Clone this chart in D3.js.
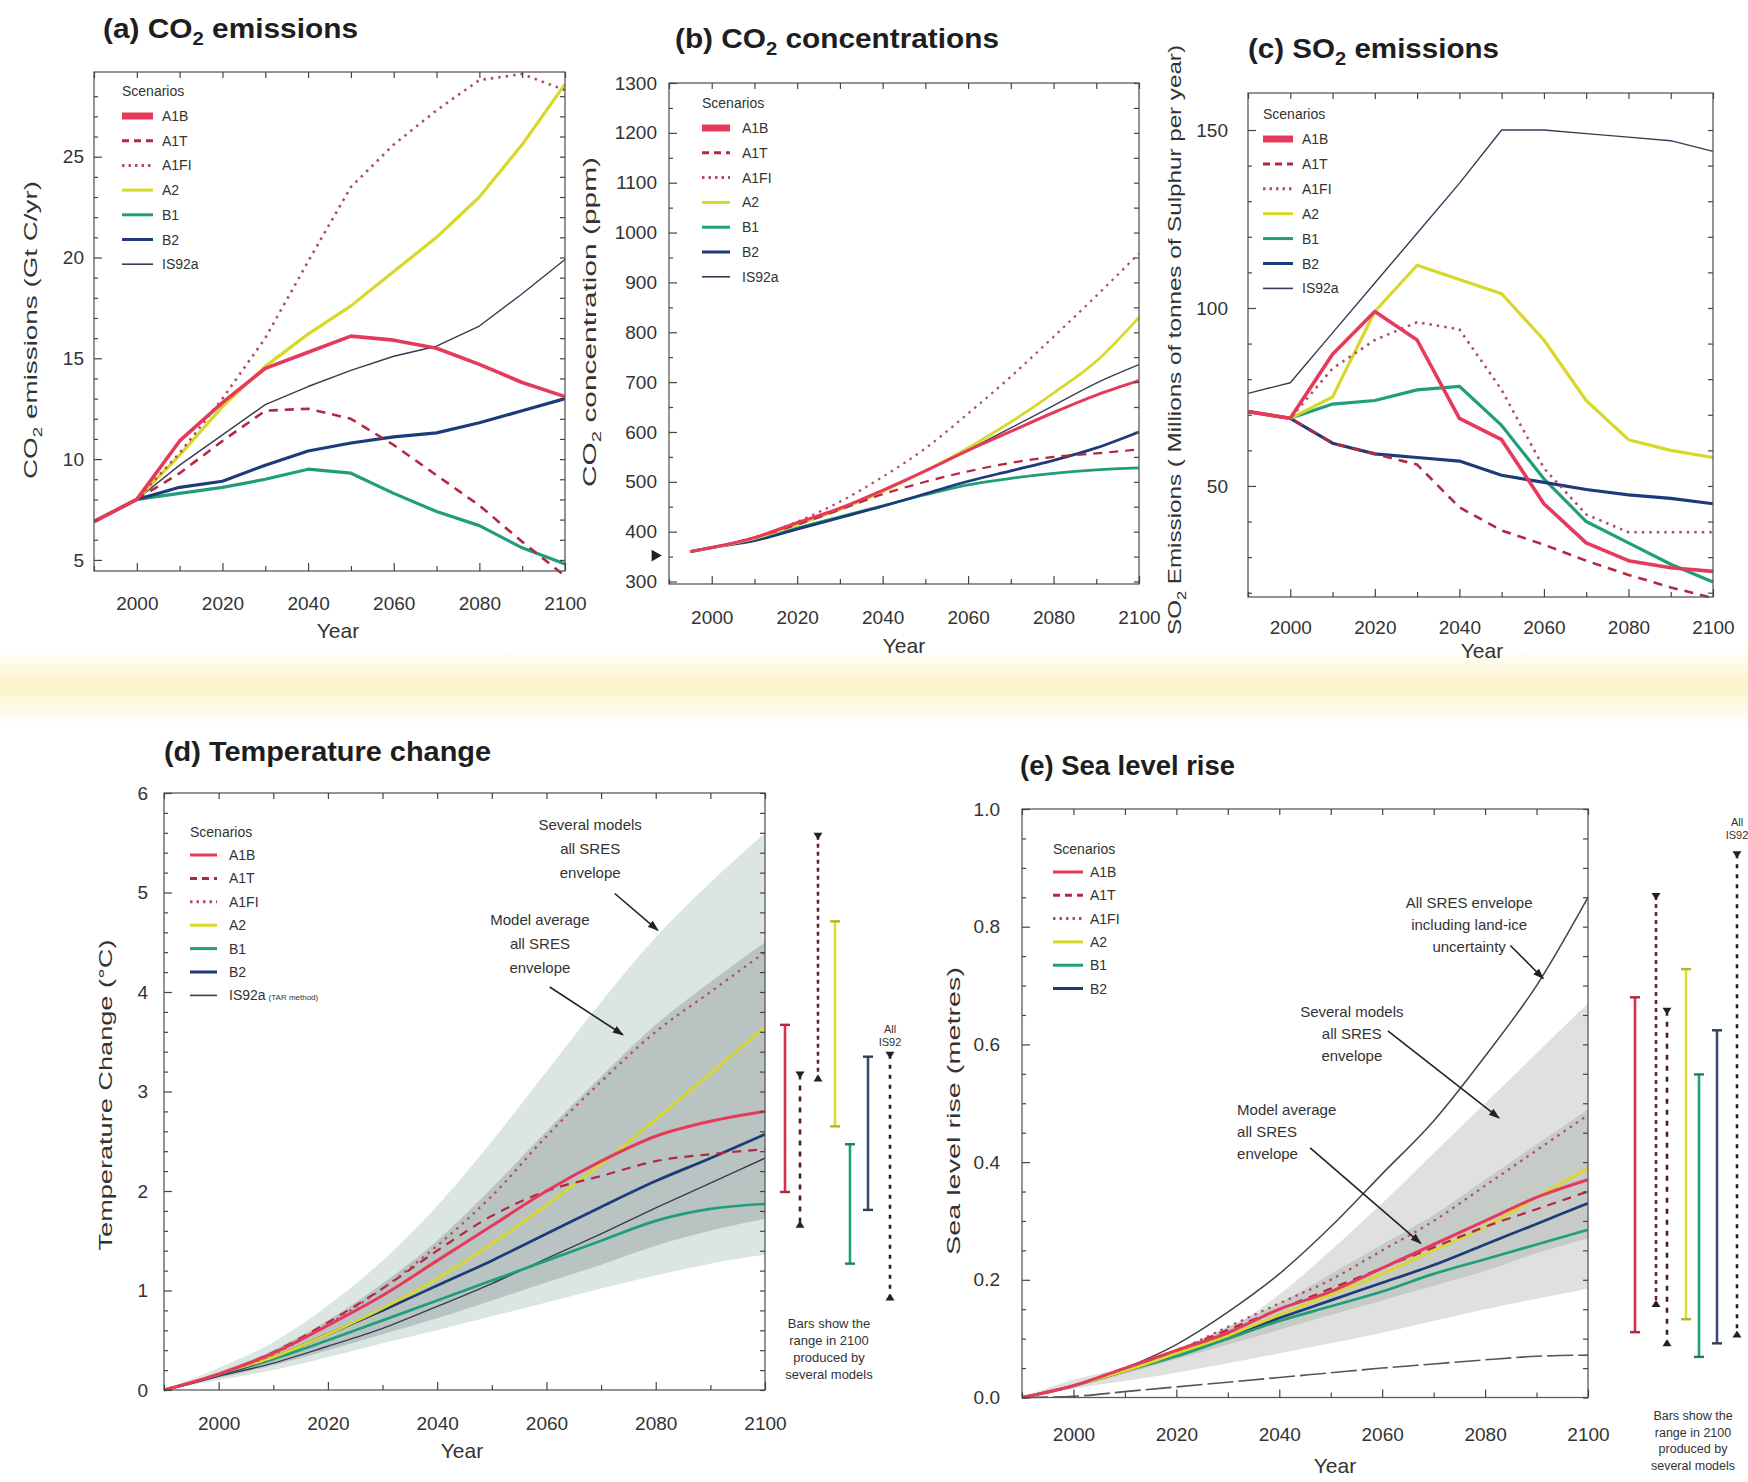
<!DOCTYPE html>
<html><head><meta charset="utf-8">
<script src="https://cdn.jsdelivr.net/npm/d3@7"></script>
<style>
body{margin:0;background:#fff}
svg{display:block}
text{font-family:"Liberation Sans",Arial,Helvetica,sans-serif}
</style></head>
<body><svg id="chart" width="1748" height="1482"></svg>
<script>
// ---------------- DATA ----------------
const years = [1990,2000,2010,2020,2030,2040,2050,2060,2070,2080,2090,2100];
const concYears = [1995,2000,2010,2020,2030,2040,2050,2060,2070,2080,2090,2100];
const xTickYears = [2000,2020,2040,2060,2080,2100];
const scenarioNames = ["A1B","A1T","A1FI","A2","B1","B2","IS92a"];

// (a) CO2 emissions, Gt C/yr
const co2EmisA1B   = [6.9,8.0,10.9,12.8,14.5,15.3,16.1,15.9,15.5,14.7,13.8,13.1];
const co2EmisA1T   = [6.9,8.0,9.3,10.9,12.4,12.5,12.0,10.7,9.2,7.7,5.9,4.2];
const co2EmisA1FI  = [6.9,8.0,10.3,13.0,16.0,19.8,23.5,25.6,27.3,28.8,29.1,28.3];
const co2EmisA2    = [6.9,8.0,10.2,12.6,14.6,16.2,17.6,19.3,21.0,23.0,25.6,28.6];
const co2EmisB1    = [6.9,8.0,8.3,8.6,9.0,9.5,9.3,8.3,7.4,6.7,5.6,4.8];
const co2EmisB2    = [6.9,8.0,8.6,8.9,9.7,10.4,10.8,11.1,11.3,11.8,12.4,13.0];
const co2EmisIS92a = [6.9,8.0,9.7,11.2,12.7,13.6,14.4,15.1,15.6,16.6,18.2,19.9];

// (b) CO2 concentrations, ppm
const co2ConcA1B   = [360,368,388,418,447,483,522,563,601,639,674,703];
const co2ConcA1T   = [360,368,388,414,444,475,500,521,538,550,557,565];
const co2ConcA1FI  = [360,368,389,420,460,510,567,637,711,791,873,958];
const co2ConcA2    = [360,368,386,414,444,480,522,568,620,678,742,830];
const co2ConcB1    = [360,368,385,407,430,452,474,494,507,517,524,528];
const co2ConcB2    = [360,368,382,405,428,451,476,501,522,543,568,600];
const co2ConcIS92a = [360,368,388,415,446,482,522,564,608,653,698,735];
const co2Obs1990 = 352;

// (c) SO2 emissions, Mt S/yr
const so2A1B   = [70.9,69,87,99,91,69,63,45,34,29,27,26];
const so2A1T   = [70.9,69,62,59,56,44,37.5,33.5,29,25,21.5,18.5];
const so2A1FI  = [70.9,69,83,91,96,94,77,55,42,37,37,37];
const so2A2    = [70.9,69,75,99,112,108,104,91,74,63,60,58];
const so2B1    = [70.9,69,73,74,77,78,67,52,40,34,28,23];
const so2B2    = [70.9,69,62,59,58,57,53,51,49,47.5,46.5,45];
const so2IS92a = [76,79,93,107,121,135,150,150,149,148,147,144];

// (d) Temperature change, deg C
const tempA1B   = [0,0.16,0.37,0.65,0.95,1.3,1.65,2.0,2.3,2.55,2.7,2.8];
const tempA1T   = [0,0.16,0.38,0.68,1.02,1.4,1.75,2.0,2.15,2.3,2.37,2.42];
const tempA1FI  = [0,0.16,0.36,0.66,1.02,1.45,1.95,2.55,3.1,3.6,4.0,4.4];
const tempA2    = [0,0.16,0.33,0.56,0.82,1.12,1.47,1.86,2.27,2.72,3.18,3.65];
const tempB1    = [0,0.15,0.31,0.5,0.7,0.9,1.1,1.3,1.5,1.7,1.82,1.87];
const tempB2    = [0,0.15,0.33,0.56,0.8,1.05,1.3,1.57,1.84,2.1,2.33,2.57];
const tempIS92a = [0,0.14,0.27,0.44,0.62,0.84,1.07,1.32,1.57,1.83,2.08,2.33];
const tempOuterLow  = [0,0.1,0.2,0.33,0.47,0.6,0.74,0.88,1.02,1.15,1.27,1.36];
const tempOuterHigh = [0,0.22,0.48,0.85,1.3,1.85,2.5,3.2,3.9,4.55,5.1,5.6];
const tempInnerLow  = [0,0.12,0.25,0.4,0.56,0.72,0.9,1.08,1.26,1.45,1.6,1.72];
const tempInnerHigh = [0,0.18,0.4,0.7,1.07,1.5,2.03,2.6,3.15,3.67,4.1,4.5];
const tempBarNames = ["A1B","A1T","A1FI","A2","B1","B2","IS92a"];
const tempBarLow   = [1.99,1.66,3.13,2.65,1.27,1.81,0.93];
const tempBarHigh  = [3.67,3.17,5.57,4.71,2.47,3.35,3.37];

// (e) Sea level rise, metres
const seaA1B   = [0,0.02,0.05,0.08,0.11,0.15,0.18,0.22,0.26,0.3,0.34,0.37];
const seaA1T   = [0,0.02,0.05,0.08,0.115,0.15,0.185,0.22,0.255,0.29,0.32,0.35];
const seaA1FI  = [0,0.02,0.05,0.08,0.12,0.16,0.2,0.25,0.3,0.36,0.42,0.48];
const seaA2    = [0,0.02,0.045,0.075,0.105,0.14,0.175,0.21,0.25,0.29,0.34,0.39];
const seaB1    = [0,0.02,0.045,0.07,0.1,0.13,0.155,0.18,0.21,0.235,0.26,0.285];
const seaB2    = [0,0.02,0.045,0.075,0.105,0.135,0.165,0.195,0.225,0.26,0.295,0.33];
const seaOuterLow  = [0,0.015,0.028,0.042,0.058,0.075,0.092,0.11,0.13,0.15,0.168,0.185];
const seaOuterHigh = [0,0.03,0.05,0.075,0.115,0.175,0.25,0.33,0.415,0.5,0.585,0.67];
const seaInnerLow  = [0,0.018,0.04,0.065,0.09,0.115,0.14,0.165,0.19,0.215,0.245,0.27];
const seaInnerHigh = [0,0.022,0.05,0.08,0.12,0.16,0.21,0.26,0.31,0.37,0.43,0.49];
const seaLandIceHigh = [0,0.02,0.05,0.09,0.145,0.21,0.29,0.38,0.47,0.58,0.7,0.85];
const seaLandIceLow  = [0,0.002,0.01,0.018,0.026,0.034,0.042,0.05,0.057,0.064,0.07,0.072];
const seaBarNames = ["A1B","A1FI","A1T","A2","B1","B2","IS92a"];
const seaBarLow   = [0.111,0.159,0.092,0.133,0.069,0.092,0.107];
const seaBarHigh  = [0.68,0.852,0.657,0.728,0.549,0.624,0.923];

// ---------------- STYLES ----------------
const style = {
  A1B:  {color:"#e63a5c", width:3.6, dash:null},
  A1T:  {color:"#b3283e", width:2.6, dash:"9,7"},
  A1FI: {color:"#b24c68", width:2.6, dash:"2.5,5"},
  A2:   {color:"#d8d828", width:3.2, dash:null},
  B1:   {color:"#1f9e7a", width:3.2, dash:null},
  B2:   {color:"#1d3b78", width:3.2, dash:null},
  IS92a:{color:"#3a3a55", width:1.4, dash:null}
};
const barStyle = {
  A1B:  {color:"#d6304c", dash:null, top:"bar", bot:"bar"},
  A1T:  {color:"#4a1e26", dash:"5,6", top:"down", bot:"up"},
  A1FI: {color:"#6a1f34", dash:"4,4", top:"down", bot:"up"},
  A2:   {color:"#dede30", dash:null, top:"bar", bot:"bar"},
  B1:   {color:"#22a070", dash:null, top:"bar", bot:"bar"},
  B2:   {color:"#3c4a6e", dash:null, top:"bar", bot:"bar"},
  IS92a:{color:"#222", dash:"4,6", top:"down", bot:"up"}
};
const drawOrder = ["IS92a","B1","B2","A2","A1T","A1FI","A1B"];
const FONT = '"Liberation Sans",Arial,Helvetica,sans-serif';
const svg = d3.select("#chart");

const defs = svg.append("defs");
defs.append("marker").attr("id","arrow").attr("viewBox","0 0 10 10").attr("refX",9).attr("refY",5)
  .attr("markerWidth",7).attr("markerHeight",7).attr("orient","auto")
  .append("path").attr("d","M0,1.5 L10,5 L0,8.5 Z").attr("fill","#222");
const grad = defs.append("linearGradient").attr("id","stripe").attr("x1",0).attr("y1",0).attr("x2",0).attr("y2",1);
grad.append("stop").attr("offset","0%").attr("stop-color","#fbf0bd").attr("stop-opacity",0);
grad.append("stop").attr("offset","50%").attr("stop-color","#fbf0bd").attr("stop-opacity",0.85);
grad.append("stop").attr("offset","100%").attr("stop-color","#fbf0bd").attr("stop-opacity",0);
svg.append("rect").attr("x",0).attr("y",648).attr("width",1748).attr("height",76).attr("fill","url(#stripe)");

// ---------------- HELPERS ----------------
function richText(g, x, y, parts, size, opts={}) {
  const t = g.append("text").attr("x",x).attr("y",y).attr("font-size",size)
    .attr("fill",opts.fill||"#2a2a2a").attr("font-weight",opts.weight||"normal")
    .attr("text-anchor",opts.anchor||"start");
  if (opts.rotate) t.attr("transform",`rotate(-90,${x},${y})`);
  let pending = 0;
  parts.forEach(p => {
    if (typeof p === "string") {
      const ts = t.append("tspan").text(p);
      if (pending) { ts.attr("dy",pending); pending = 0; }
    } else {
      t.append("tspan").text(p.sub).attr("font-size",size*0.68).attr("dy",size*0.25);
      pending = -size*0.25;
    }
  });
  if (opts.length) t.attr("textLength",opts.length).attr("lengthAdjust","spacingAndGlyphs");
  return t;
}

function drawPanel(p) {
  const g = svg.append("g");
  const x = d3.scaleLinear().domain([1990,2100]).range([p.left,p.right]);
  const y = d3.scaleLinear().domain(p.yDomain).range([p.bottom,p.top]);
  const clipId = "clip-"+p.id;
  defs.append("clipPath").attr("id",clipId).append("rect")
    .attr("x",p.left).attr("y",p.top-6).attr("width",p.right-p.left+2).attr("height",p.bottom-p.top+14);
  const plot = g.append("g").attr("clip-path",`url(#${clipId})`);

  (p.bands||[]).forEach(b => {
    const area = d3.area().x((d,i)=>x(years[i])).y0((d,i)=>y(b.lo[i])).y1((d,i)=>y(b.hi[i])).curve(d3.curveMonotoneX);
    plot.append("path").attr("d",area(years)).attr("fill",b.fill).attr("stroke","none");
  });
  (p.thin||[]).forEach(t => {
    const ln = d3.line().x((d,i)=>x(years[i])).y(d=>y(d)).curve(d3.curveMonotoneX);
    plot.append("path").attr("d",ln(t.values)).attr("fill","none").attr("stroke",t.color)
      .attr("stroke-width",t.width).attr("stroke-dasharray",t.dash||null);
  });
  const curve = p.smooth ? d3.curveMonotoneX : d3.curveLinear;
  drawOrder.forEach(name => {
    const s = p.series[name];
    if (!s) return;
    const st = style[name];
    const xs = p.seriesYears || years;
    const ln = d3.line().x((d,i)=>x(xs[i])).y(d=>y(d)).curve(curve);
    plot.append("path").attr("d",ln(s)).attr("fill","none").attr("stroke",st.color)
      .attr("stroke-width",name==="IS92a"?st.width:(p.lineScale||1)*st.width)
      .attr("stroke-dasharray",st.dash).attr("stroke-linejoin","round");
  });

  g.append("rect").attr("x",p.left).attr("y",p.top).attr("width",p.right-p.left).attr("height",p.bottom-p.top)
    .attr("fill","none").attr("stroke","#5a5a5a").attr("stroke-width",1.3);

  const styleAxis = sel => {
    sel.select(".domain").remove();
    sel.selectAll(".tick line").attr("stroke","#444").attr("stroke-width",1.2);
    sel.selectAll(".tick text").attr("font-size",p.tickFont||19).attr("fill","#333").attr("font-family",FONT);
  };
  g.append("g").attr("transform",`translate(0,${p.bottom})`)
    .call(d3.axisBottom(x).tickValues(xTickYears).tickFormat(d3.format("d")).tickSizeInner(-8).tickSizeOuter(0).tickPadding(p.xPad))
    .call(styleAxis);
  const minorYears = d3.range(1990,2101,10).filter(v => v%20!==0);
  g.append("g").attr("transform",`translate(0,${p.bottom})`)
    .call(d3.axisBottom(x).tickValues(minorYears).tickFormat("").tickSizeInner(-5).tickSizeOuter(0)).call(styleAxis);
  g.append("g").attr("transform",`translate(0,${p.top})`)
    .call(d3.axisTop(x).tickValues(d3.range(1990,2101,10)).tickFormat("").tickSizeInner(-6).tickSizeOuter(0)).call(styleAxis);
  g.append("g").attr("transform",`translate(${p.left},0)`)
    .call(d3.axisLeft(y).tickValues(p.yTicks).tickFormat(p.yFormat||d3.format("d")).tickSizeInner(-8).tickSizeOuter(0).tickPadding(p.yPad))
    .call(styleAxis);
  g.append("g").attr("transform",`translate(${p.left},0)`)
    .call(d3.axisLeft(y).tickValues(p.yMinor).tickFormat("").tickSizeInner(-4).tickSizeOuter(0)).call(styleAxis);
  g.append("g").attr("transform",`translate(${p.right},0)`)
    .call(d3.axisRight(y).tickValues(p.yTicks.concat(p.yMinor)).tickFormat("").tickSizeInner(-5).tickSizeOuter(0)).call(styleAxis);

  richText(g, p.title.x, p.title.y, p.title.parts, 28, {weight:"bold", fill:"#1e1e1e", length:p.title.len});
  richText(g, p.xTitle.x, p.xTitle.y, ["Year"], 21, {anchor:"middle", fill:"#333"});
  richText(g, p.yTitle.x, p.yTitle.y, p.yTitle.parts, 18, {anchor:"middle", rotate:true, fill:"#333", length:p.yTitle.len});

  const L = p.legend;
  const lg = g.append("g");
  lg.append("text").attr("x",L.x).attr("y",L.y0-L.dy+5).attr("font-size",14).attr("fill","#333").text("Scenarios");
  L.names.forEach((name,i) => {
    const st = style[name];
    const yy = L.y0 + i*L.dy;
    lg.append("line").attr("x1",L.x).attr("x2",L.x+L.len).attr("y1",yy).attr("y2",yy)
      .attr("stroke",st.color).attr("stroke-width",name==="A1B"&&L.fat?7:(name==="IS92a"?1.6:3))
      .attr("stroke-dasharray",name==="A1T"?"7,5":(name==="A1FI"?"2.5,4":null));
    const t = lg.append("text").attr("x",L.x+L.len+L.gap).attr("y",yy+5).attr("font-size",14).attr("fill","#333").text(name);
    if (name==="IS92a" && L.tar) t.append("tspan").attr("font-size",8).attr("dx",3).text("(TAR method)");
  });
  return {g,x,y};
}

function drawAnnotation(g, x, y, a) {
  a.lines.forEach((s,i) => {
    g.append("text").attr("x",x(a.tx)).attr("y",y(a.ty)+i*a.lh).attr("text-anchor",a.anchor||"middle")
      .attr("font-size",15).attr("fill","#333").text(s);
  });
  g.append("line").attr("x1",x(a.from[0])).attr("y1",y(a.from[1])).attr("x2",x(a.to[0])).attr("y2",y(a.to[1]))
    .attr("stroke","#222").attr("stroke-width",1.6).attr("marker-end","url(#arrow)");
}

function drawBars(g, right, y, names, lows, highs, offsets) {
  names.forEach((name,i) => {
    const bs = barStyle[name];
    const bx = right + offsets[i];
    const y1 = y(highs[i]), y2 = y(lows[i]);
    g.append("line").attr("x1",bx).attr("x2",bx).attr("y1",y1).attr("y2",y2)
      .attr("stroke",bs.color).attr("stroke-width",2.6).attr("stroke-dasharray",bs.dash);
    const cap = (yy,type) => {
      if (type==="bar") g.append("line").attr("x1",bx-5).attr("x2",bx+5).attr("y1",yy).attr("y2",yy)
        .attr("stroke",d3.color(bs.color).darker(0.6)).attr("stroke-width",2.4);
      else if (type==="down") g.append("path").attr("d",`M${bx-4.5},${yy-3}L${bx+4.5},${yy-3}L${bx},${yy+4}Z`).attr("fill","#222");
      else if (type==="up") g.append("path").attr("d",`M${bx-4.5},${yy+3}L${bx+4.5},${yy+3}L${bx},${yy-4}Z`).attr("fill","#222");
    };
    cap(y1,bs.top); cap(y2,bs.bot);
  });
}

// ---------------- PANELS ----------------
drawPanel({
  id:"a", left:94, right:565, top:72, bottom:571, yDomain:[4.45,29.2],
  yTicks:[5,10,15,20,25], yMinor:d3.range(5,29,1).filter(v=>v%5!==0), xPad:26, yPad:10,
  series:{A1B:co2EmisA1B,A1T:co2EmisA1T,A1FI:co2EmisA1FI,A2:co2EmisA2,B1:co2EmisB1,B2:co2EmisB2,IS92a:co2EmisIS92a},
  title:{x:103,y:38,len:255,parts:["(a) CO",{sub:"2"}," emissions"]},
  xTitle:{x:338,y:638}, yTitle:{x:37,y:330,len:298,parts:["CO",{sub:"2"}," emissions (Gt C/yr)"]},
  legend:{x:122,y0:116,dy:24.7,len:31,gap:9,names:scenarioNames,fat:true}
});

const pb = drawPanel({
  id:"b", left:669, right:1139, top:83, bottom:584, yDomain:[295,1300],
  yTicks:d3.range(300,1301,100), yMinor:d3.range(350,1300,100), xPad:27, yPad:12, smooth:true, lineScale:0.85,
  seriesYears:concYears,
  series:{A1B:co2ConcA1B,A1T:co2ConcA1T,A1FI:co2ConcA1FI,A2:co2ConcA2,B1:co2ConcB1,B2:co2ConcB2,IS92a:co2ConcIS92a},
  title:{x:675,y:48,len:324,parts:["(b) CO",{sub:"2"}," concentrations"]},
  xTitle:{x:904,y:653}, yTitle:{x:596,y:322,len:330,parts:["CO",{sub:"2"}," concentration (ppm)"]},
  legend:{x:702,y0:128,dy:24.8,len:28,gap:12,names:scenarioNames,fat:true}
});
pb.g.append("path").attr("d",d3.symbol().type(d3.symbolTriangle).size(60)())
  .attr("transform",`translate(${pb.x(1990)-14},${pb.y(co2Obs1990)}) rotate(90)`).attr("fill","#222");

drawPanel({
  id:"c", left:1248, right:1713, top:93, bottom:597, yDomain:[18.8,160.4],
  yTicks:[50,100,150], yMinor:d3.range(20,160,10).filter(v=>v%50!==0), xPad:24, yPad:20,
  series:{A1B:so2A1B,A1T:so2A1T,A1FI:so2A1FI,A2:so2A2,B1:so2B1,B2:so2B2,IS92a:so2IS92a},
  title:{x:1248,y:58,len:251,parts:["(c) SO",{sub:"2"}," emissions"]},
  xTitle:{x:1482,y:658}, yTitle:{x:1181,y:340,len:590,parts:["SO",{sub:"2"}," Emissions ( Millions of tonnes of Sulphur per year)"]},
  legend:{x:1263,y0:139,dy:24.9,len:30,gap:9,names:scenarioNames,fat:true}
});

const pd = drawPanel({
  id:"d", left:164, right:765, top:793, bottom:1390, yDomain:[0,6],
  yTicks:[0,1,2,3,4,5,6], yMinor:d3.range(0.2,6,0.2).filter(v=>Math.abs(v-Math.round(v))>0.05), xPad:27, yPad:16, smooth:true, lineScale:0.85,
  bands:[{lo:tempOuterLow,hi:tempOuterHigh,fill:"#dbe6e2"},{lo:tempInnerLow,hi:tempInnerHigh,fill:"#b9c4c2"}],
  series:{A1B:tempA1B,A1T:tempA1T,A1FI:tempA1FI,A2:tempA2,B1:tempB1,B2:tempB2,IS92a:tempIS92a},
  title:{x:164,y:761,len:327,parts:["(d) Temperature change"]},
  xTitle:{x:462,y:1458}, yTitle:{x:112,y:1095,len:311,parts:["Temperature Change (\u00b0C)"]},
  legend:{x:190,y0:855,dy:23.4,len:27,gap:12,names:scenarioNames,tar:true}
});
drawAnnotation(pd.g, pd.x, pd.y, {lines:["Several models","all SRES","envelope"], tx:2068, ty:5.63, lh:24, from:[2072.5,4.99], to:[2080.4,4.62]});
drawAnnotation(pd.g, pd.x, pd.y, {lines:["Model average","all SRES","envelope"], tx:2058.8, ty:4.67, lh:24, from:[2060.6,4.05], to:[2074,3.57]});
drawBars(pd.g, 765, pd.y, tempBarNames, tempBarLow, tempBarHigh, [20,35,53,70,85,103,125]);
pd.g.append("text").attr("x",890).attr("y",pd.y(3.37)-22).attr("text-anchor","middle").attr("font-size",11).attr("fill","#333").text("All");
pd.g.append("text").attr("x",890).attr("y",pd.y(3.37)-9).attr("text-anchor","middle").attr("font-size",11).attr("fill","#333").text("IS92");
["Bars show the","range in 2100","produced by","several models"].forEach((s,i)=>
  pd.g.append("text").attr("x",829).attr("y",1328+i*17).attr("text-anchor","middle").attr("font-size",13).attr("fill","#333").text(s));

const pe = drawPanel({
  id:"e", left:1022, right:1588, top:809, bottom:1397.5, yDomain:[0,1],
  yTicks:[0,0.2,0.4,0.6,0.8,1.0], yFormat:d3.format(".1f"), yMinor:d3.range(0.05,1,0.05).filter(v=>Math.abs(v*5-Math.round(v*5))>0.01), xPad:30, yPad:22, smooth:true, lineScale:0.85,
  bands:[{lo:seaOuterLow,hi:seaOuterHigh,fill:"#e0e1df"},{lo:seaInnerLow,hi:seaInnerHigh,fill:"#c6cbc8"}],
  thin:[{values:seaLandIceHigh,color:"#444",width:1.5},{values:seaLandIceLow,color:"#555",width:1.6,dash:"26,5"}],
  series:{A1B:seaA1B,A1T:seaA1T,A1FI:seaA1FI,A2:seaA2,B1:seaB1,B2:seaB2},
  title:{x:1020,y:775,len:215,parts:["(e) Sea level rise"]},
  xTitle:{x:1335,y:1473}, yTitle:{x:960,y:1111,len:288,parts:["Sea level rise (metres)"]},
  legend:{x:1053,y0:872,dy:23.3,len:30,gap:7,names:["A1B","A1T","A1FI","A2","B1","B2"]}
});
drawAnnotation(pe.g, pe.x, pe.y, {lines:["All SRES envelope","including land-ice","uncertainty"], tx:2076.9, ty:0.832, lh:22, from:[2084.9,0.768], to:[2091.3,0.712]});
drawAnnotation(pe.g, pe.x, pe.y, {lines:["Several models","all SRES","envelope"], tx:2054.1, ty:0.647, lh:22, from:[2061.1,0.623], to:[2082.7,0.475]});
drawAnnotation(pe.g, pe.x, pe.y, {lines:["Model average","all SRES","envelope"], tx:2031.8, ty:0.48, lh:22, anchor:"start", from:[2046,0.424], to:[2067.5,0.262]});
drawBars(pe.g, 1588, pe.y, seaBarNames, seaBarLow, seaBarHigh, [47,68,79,98,111,129,149]);
pe.g.append("text").attr("x",1737).attr("y",pe.y(0.923)-28).attr("text-anchor","middle").attr("font-size",11).attr("fill","#333").text("All");
pe.g.append("text").attr("x",1737).attr("y",pe.y(0.923)-15).attr("text-anchor","middle").attr("font-size",11).attr("fill","#333").text("IS92");
["Bars show the","range in 2100","produced by","several models"].forEach((s,i)=>
  pe.g.append("text").attr("x",1693).attr("y",1420+i*16.5).attr("text-anchor","middle").attr("font-size",12.5).attr("fill","#333").text(s));
</script>
</body></html>
